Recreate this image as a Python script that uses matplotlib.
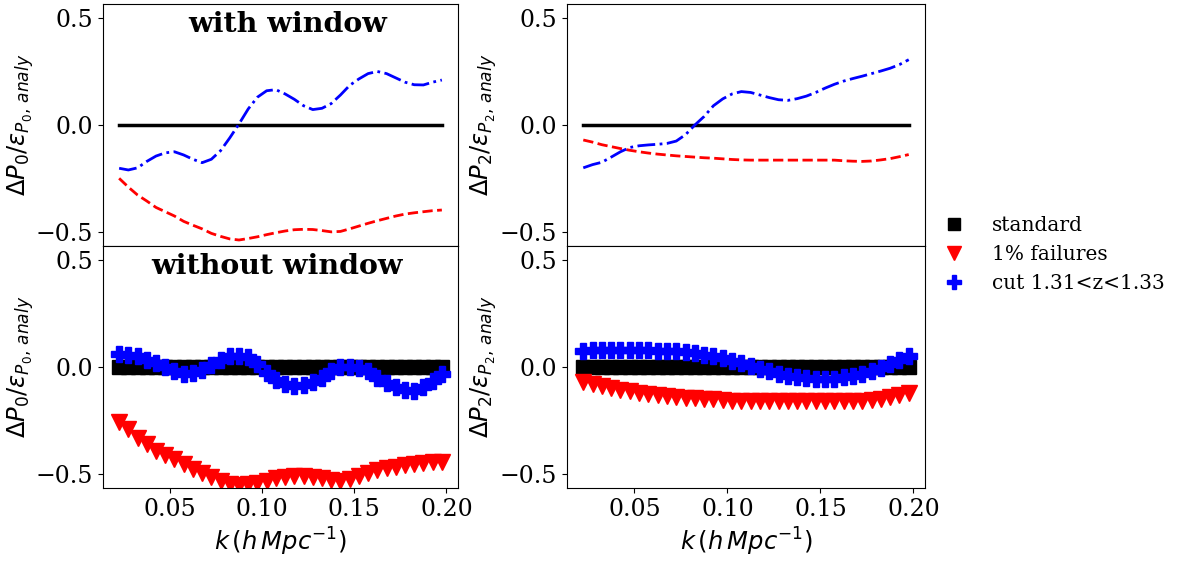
import numpy as np
import matplotlib
matplotlib.use('Agg')
import matplotlib.pyplot as plt

plt.rcParams['font.family'] = 'serif'
plt.rcParams['font.serif'] = ['DejaVu Serif']
plt.rcParams['mathtext.fontset'] = 'dejavusans'

# k bins (h/Mpc)
k = [0.0225, 0.0275, 0.0325, 0.0375, 0.0425, 0.0475, 0.0525, 0.0575, 0.0625,
     0.0675, 0.0725, 0.0775, 0.0825, 0.0875, 0.0925, 0.0975, 0.1025, 0.1075,
     0.1125, 0.1175, 0.1225, 0.1275, 0.1325, 0.1375, 0.1425, 0.1475, 0.1525,
     0.1575, 0.1625, 0.1675, 0.1725, 0.1775, 0.1825, 0.1875, 0.1925, 0.1975]

# with window: monopole
win_p0_std = [0.0] * 36
win_p0_fail = [-0.249, -0.290, -0.327, -0.355, -0.385, -0.405, -0.425, -0.450, -0.468,
               -0.485, -0.506, -0.520, -0.532, -0.537, -0.530, -0.522, -0.512, -0.503,
               -0.495, -0.489, -0.487, -0.488, -0.493, -0.499, -0.497, -0.485, -0.472,
               -0.459, -0.447, -0.436, -0.425, -0.416, -0.410, -0.405, -0.400, -0.397]
win_p0_cut = [-0.202, -0.210, -0.200, -0.170, -0.145, -0.130, -0.125, -0.140, -0.160,
              -0.176, -0.160, -0.120, -0.060, 0.005, 0.075, 0.130, 0.160, 0.165,
              0.145, 0.120, 0.090, 0.072, 0.078, 0.100, 0.140, 0.185, 0.215,
              0.240, 0.250, 0.240, 0.220, 0.200, 0.188, 0.187, 0.200, 0.210]

# with window: quadrupole
win_p2_std = [0.0] * 36
win_p2_fail = [-0.070, -0.080, -0.092, -0.101, -0.110, -0.118, -0.125, -0.131, -0.136,
               -0.140, -0.144, -0.147, -0.150, -0.153, -0.155, -0.158, -0.161, -0.163,
               -0.164, -0.164, -0.164, -0.164, -0.164, -0.164, -0.164, -0.164, -0.164,
               -0.164, -0.167, -0.169, -0.170, -0.168, -0.163, -0.157, -0.148, -0.138]
win_p2_cut = [-0.200, -0.185, -0.174, -0.150, -0.125, -0.105, -0.097, -0.093, -0.090,
              -0.086, -0.075, -0.045, 0.000, 0.040, 0.090, 0.122, 0.145, 0.156,
              0.152, 0.140, 0.128, 0.118, 0.115, 0.123, 0.135, 0.152, 0.172,
              0.190, 0.205, 0.217, 0.228, 0.240, 0.252, 0.265, 0.282, 0.305]

# without window: monopole
nowin_p0_std = [0.0] * 36
nowin_p0_fail = [-0.259, -0.290, -0.330, -0.360, -0.390, -0.410, -0.430, -0.455, -0.475,
                 -0.495, -0.515, -0.530, -0.545, -0.550, -0.548, -0.540, -0.530, -0.520,
                 -0.512, -0.508, -0.508, -0.512, -0.520, -0.528, -0.533, -0.525, -0.510,
                 -0.495, -0.483, -0.472, -0.465, -0.458, -0.452, -0.448, -0.445, -0.443]
nowin_p0_cut = [0.061, 0.058, 0.050, 0.035, 0.020, 0.000, -0.020, -0.033, -0.030,
                -0.016, 0.010, 0.035, 0.050, 0.053, 0.045, 0.015, -0.030, -0.060,
                -0.078, -0.087, -0.085, -0.072, -0.050, -0.020, -0.002, 0.000, -0.005,
                -0.020, -0.050, -0.075, -0.095, -0.107, -0.110, -0.095, -0.065, -0.033]

# without window: quadrupole
nowin_p2_std = [0.0] * 36
nowin_p2_fail = [-0.072, -0.080, -0.090, -0.098, -0.106, -0.113, -0.120, -0.126, -0.131,
                 -0.136, -0.140, -0.143, -0.146, -0.149, -0.151, -0.154, -0.157, -0.159,
                 -0.160, -0.160, -0.160, -0.160, -0.160, -0.160, -0.160, -0.160, -0.160,
                 -0.160, -0.160, -0.160, -0.158, -0.154, -0.148, -0.140, -0.131, -0.123]
nowin_p2_cut = [0.076, 0.078, 0.079, 0.079, 0.079, 0.078, 0.078, 0.078, 0.077,
                0.076, 0.075, 0.072, 0.066, 0.058, 0.050, 0.040, 0.030, 0.018,
                0.005, -0.008, -0.020, -0.031, -0.040, -0.047, -0.052, -0.055, -0.056,
                -0.054, -0.048, -0.040, -0.031, -0.020, -0.005, 0.012, 0.032, 0.053]

labels = ['standard', '1% failures', 'cut 1.31<z<1.33']
ylab0 = r'$\Delta P_0/\epsilon_{P_0,\,analy}$'
ylab2 = r'$\Delta P_2/\epsilon_{P_2,\,analy}$'

fig = plt.figure(figsize=(11.81, 5.65), dpi=100)
W, H = 1181., 565.
ax1 = fig.add_axes([103 / W, 1 - 246 / H, 355 / W, 242 / H])
ax2 = fig.add_axes([567 / W, 1 - 246 / H, 358 / W, 242 / H], sharex=ax1)
ax3 = fig.add_axes([103 / W, 1 - 488 / H, 355 / W, 242 / H], sharex=ax1)
ax4 = fig.add_axes([567 / W, 1 - 488 / H, 358 / W, 242 / H], sharex=ax1)

# top row: lines
ax1.plot(k, win_p0_std, color='k', lw=2.5)
ax1.plot(k, win_p0_fail, color='r', ls='--', lw=2)
ax1.plot(k, win_p0_cut, color='b', ls='-.', lw=2)
ax2.plot(k, win_p2_std, color='k', lw=2.5)
ax2.plot(k, win_p2_fail, color='r', ls='--', lw=2)
ax2.plot(k, win_p2_cut, color='b', ls='-.', lw=2)

# bottom row: markers
ms = 11
ax3.plot(k, nowin_p0_std, 's', color='k', ms=ms - 1, label=labels[0])
ax3.plot(k, nowin_p0_fail, 'v', color='r', ms=ms, label=labels[1])
ax3.plot(k, nowin_p0_cut, 'P', color='b', ms=ms, label=labels[2])
ax4.plot(k, nowin_p2_std, 's', color='k', ms=ms - 1)
ax4.plot(k, nowin_p2_fail, 'v', color='r', ms=ms)
ax4.plot(k, nowin_p2_cut, 'P', color='b', ms=ms)

for ax in (ax1, ax2, ax3, ax4):
    ax.set_ylim(-0.565, 0.565)
    ax.set_yticks([-0.5, 0.0, 0.5])
    ax.tick_params(labelsize=17)
for ax in (ax1, ax2):
    ax.tick_params(labelbottom=False)
ax3.set_xticks([0.05, 0.10, 0.15, 0.20])

for ax, lab in ((ax1, ylab0), (ax3, ylab0), (ax2, ylab2), (ax4, ylab2)):
    ax.set_ylabel(lab, fontsize=17.5)
    ax.yaxis.set_label_coords(-0.19, 0.5)
ax3.set_xlabel(r'$k\,(h\,Mpc^{-1})$', fontsize=17.5)
ax4.set_xlabel(r'$k\,(h\,Mpc^{-1})$', fontsize=17.5)

ax1.text(0.52, 0.97, 'with window', transform=ax1.transAxes, ha='center', va='top',
         fontsize=20.5, fontweight='bold')
ax3.text(0.49, 0.97, 'without window', transform=ax3.transAxes, ha='center', va='top',
         fontsize=20.5, fontweight='bold')

fig.legend(*ax3.get_legend_handles_labels(), loc='center left',
           bbox_to_anchor=(0.775, 0.55), frameon=False, fontsize=14.5,
           handletextpad=0.9, numpoints=1, markerscale=0.9)

plt.savefig('out.png', dpi=100)
